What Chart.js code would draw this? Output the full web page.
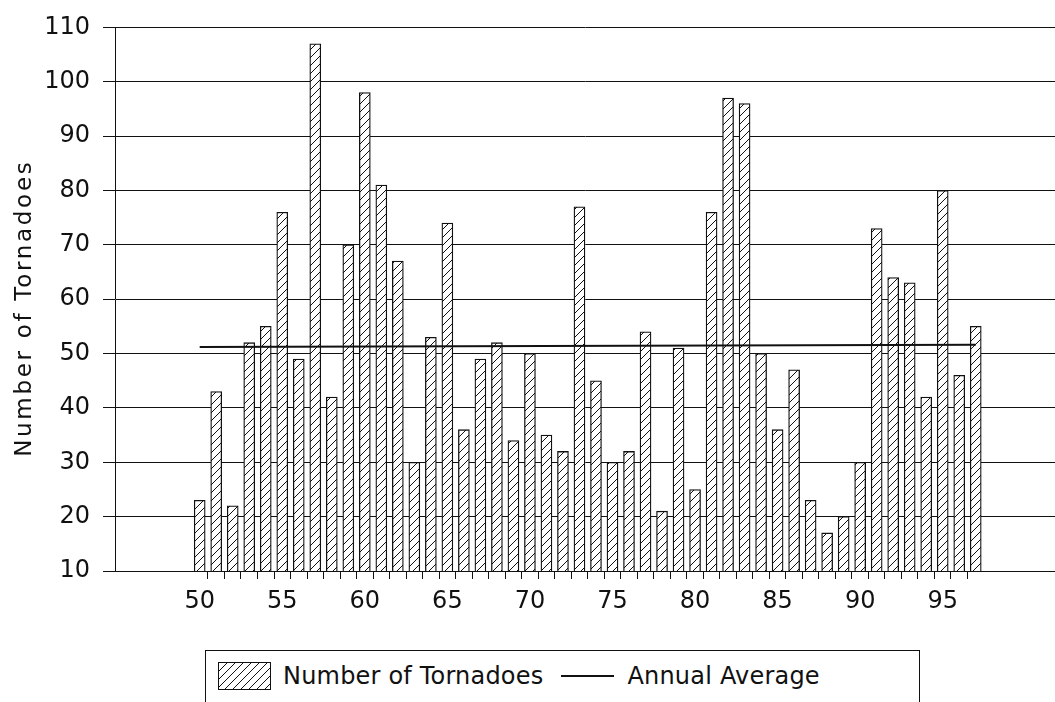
<!DOCTYPE html>
<html lang="en">
<head>
    <meta charset="UTF-8">
    <title>Number of Tornadoes</title>
    <style>
        body {
            margin: 0;
            background: #fff;
            font-family: 'DejaVu Sans', sans-serif;
            color: #111;
        }
        .wrap {
            position: relative;
            width: 1055px;
            height: 702px;
            overflow: hidden;
        }
        .chart-box {
            position: absolute;
            left: 0;
            top: 0;
            width: 1055px;
            height: 625px;
        }
        .legend {
            position: absolute;
            left: 205px;
            top: 650px;
            width: 715px;
            height: 54px;
            box-sizing: border-box;
            border: 1px solid #111;
            display: flex;
            align-items: center;
            padding-left: 12px;
            padding-bottom: 2px;
            font-size: 24px;
            letter-spacing: 0.2px;
        }
        .legend canvas {
            border: 1px solid #111;
            margin-right: 12px;
        }
        .legend .line {
            display: inline-block;
            width: 53px;
            border-top: 2px solid #111;
            margin: 0 13px 0 18px;
        }
    </style>
    <script src="https://cdn.jsdelivr.net/npm/chart.js"></script>
</head>
<body>
<div class="wrap">
    <div class="chart-box"><canvas id="chart"></canvas></div>
    <div class="legend">
        <canvas id="swatch" width="51" height="26"></canvas>
        <span>Number of Tornadoes</span>
        <span class="line"></span>
        <span>Annual Average</span>
    </div>
</div>

<script>
    // years (19xx) and tornado counts
    const years = [50, 51, 52, 53, 54, 55, 56, 57, 58, 59,
                   60, 61, 62, 63, 64, 65, 66, 67, 68, 69,
                   70, 71, 72, 73, 74, 75, 76, 77, 78, 79,
                   80, 81, 82, 83, 84, 85, 86, 87, 88, 89,
                   90, 91, 92, 93, 94, 95, 96, 97];
    const tornadoes = [23, 43, 22, 52, 55, 76, 49, 107, 42, 70,
                       98, 81, 67, 30, 53, 74, 36, 49, 52, 34,
                       50, 35, 32, 77, 45, 30, 32, 54, 21, 51,
                       25, 76, 97, 96, 50, 36, 47, 23, 17, 20,
                       30, 73, 64, 63, 42, 80, 46, 55];

    // annual average line: end points
    const averageYears = [50, 97];
    const averageValues = [51.2, 51.6];

    const xLabelYears = [50, 55, 60, 65, 70, 75, 80, 85, 90, 95];
    const yTickValues = [10, 20, 30, 40, 50, 60, 70, 80, 90, 100, 110];

    const ink = '#111';
    const tickFont = { family: "'DejaVu Sans', sans-serif", size: 24 };

    function makeHatch() {
        const c = document.createElement('canvas');
        c.width = 8;
        c.height = 8;
        const g = c.getContext('2d');
        g.fillStyle = '#fff';
        g.fillRect(0, 0, 8, 8);
        g.strokeStyle = ink;
        g.lineWidth = 1;
        g.beginPath();
        g.moveTo(0, 8); g.lineTo(8, 0);
        g.moveTo(-1, 1); g.lineTo(1, -1);
        g.moveTo(7, 9); g.lineTo(9, 7);
        g.stroke();
        return g.createPattern(c, 'repeat');
    }
    const hatch = makeHatch();

    // legend swatch
    const sw = document.getElementById('swatch').getContext('2d');
    sw.fillStyle = hatch;
    sw.fillRect(0, 0, 51, 26);

    // tick marks sit between the bars
    const xTickPositions = years.slice(1).map(y => y - 0.5);

    // the y title is spaced out and sits a bit lower in the original
    const spacedTitle = {
        id: 'spacedTitle',
        afterLayout(chart) {
            const s = chart.scales.y;
            if (s._spaced) return;
            const orig = s.drawTitle.bind(s);
            s.drawTitle = function () {
                const ctx = chart.ctx;
                ctx.save();
                ctx.letterSpacing = '2.7px';
                ctx.translate(0, 9);
                orig();
                ctx.restore();
            };
            s._spaced = true;
        }
    };

    new Chart(document.getElementById('chart'), {
        type: 'bar',
        data: {
            datasets: [
                {
                    type: 'line',
                    label: 'Annual Average',
                    data: averageYears.map((y, i) => ({ x: y, y: averageValues[i] })),
                    borderColor: ink,
                    borderWidth: 2,
                    pointRadius: 0,
                    order: 0
                },
                {
                    type: 'bar',
                    label: 'Number of Tornadoes',
                    data: years.map((y, i) => ({ x: y, y: tornadoes[i] })),
                    backgroundColor: hatch,
                    borderColor: ink,
                    borderWidth: 1.3,
                    barThickness: 11,
                    order: 1
                }
            ]
        },
        plugins: [spacedTitle],
        options: {
            responsive: true,
            maintainAspectRatio: false,
            animation: false,
            layout: { padding: { top: 16, right: 0, left: 0, bottom: 0 } },
            plugins: {
                legend: { display: false },
                tooltip: { enabled: false }
            },
            scales: {
                x: {
                    type: 'linear',
                    min: 44.87,
                    max: 101.8,
                    offset: false,
                    afterBuildTicks: scale => {
                        scale.ticks = xTickPositions.map(v => ({ value: v }));
                    },
                    afterFit: scale => { scale.height = 54; },
                    grid: {
                        offset: false,
                        drawOnChartArea: false,
                        color: ink,
                        tickLength: 8
                    },
                    border: { display: true, color: ink },
                    ticks: {
                        autoSkip: false,
                        maxRotation: 0,
                        font: tickFont,
                        color: ink,
                        padding: 8,
                        labelOffset: -8.25,
                        callback: v => xLabelYears.includes(v - 0.5) ? String(v - 0.5) : ''
                    }
                },
                y: {
                    min: 10,
                    max: 110,
                    afterBuildTicks: scale => {
                        scale.ticks = yTickValues.map(v => ({ value: v }));
                    },
                    afterFit: scale => { scale.width = 115; },
                    grid: { color: ink, tickLength: 12 },
                    border: { display: true, color: ink },
                    ticks: {
                        font: tickFont,
                        color: ink,
                        padding: 13
                    },
                    title: {
                        display: true,
                        text: 'Number of Tornadoes',
                        color: ink,
                        font: { family: "'DejaVu Sans', sans-serif", size: 23 },
                        padding: { top: 11, bottom: 0 }
                    }
                }
            }
        }
    });
</script>
</body>
</html>
